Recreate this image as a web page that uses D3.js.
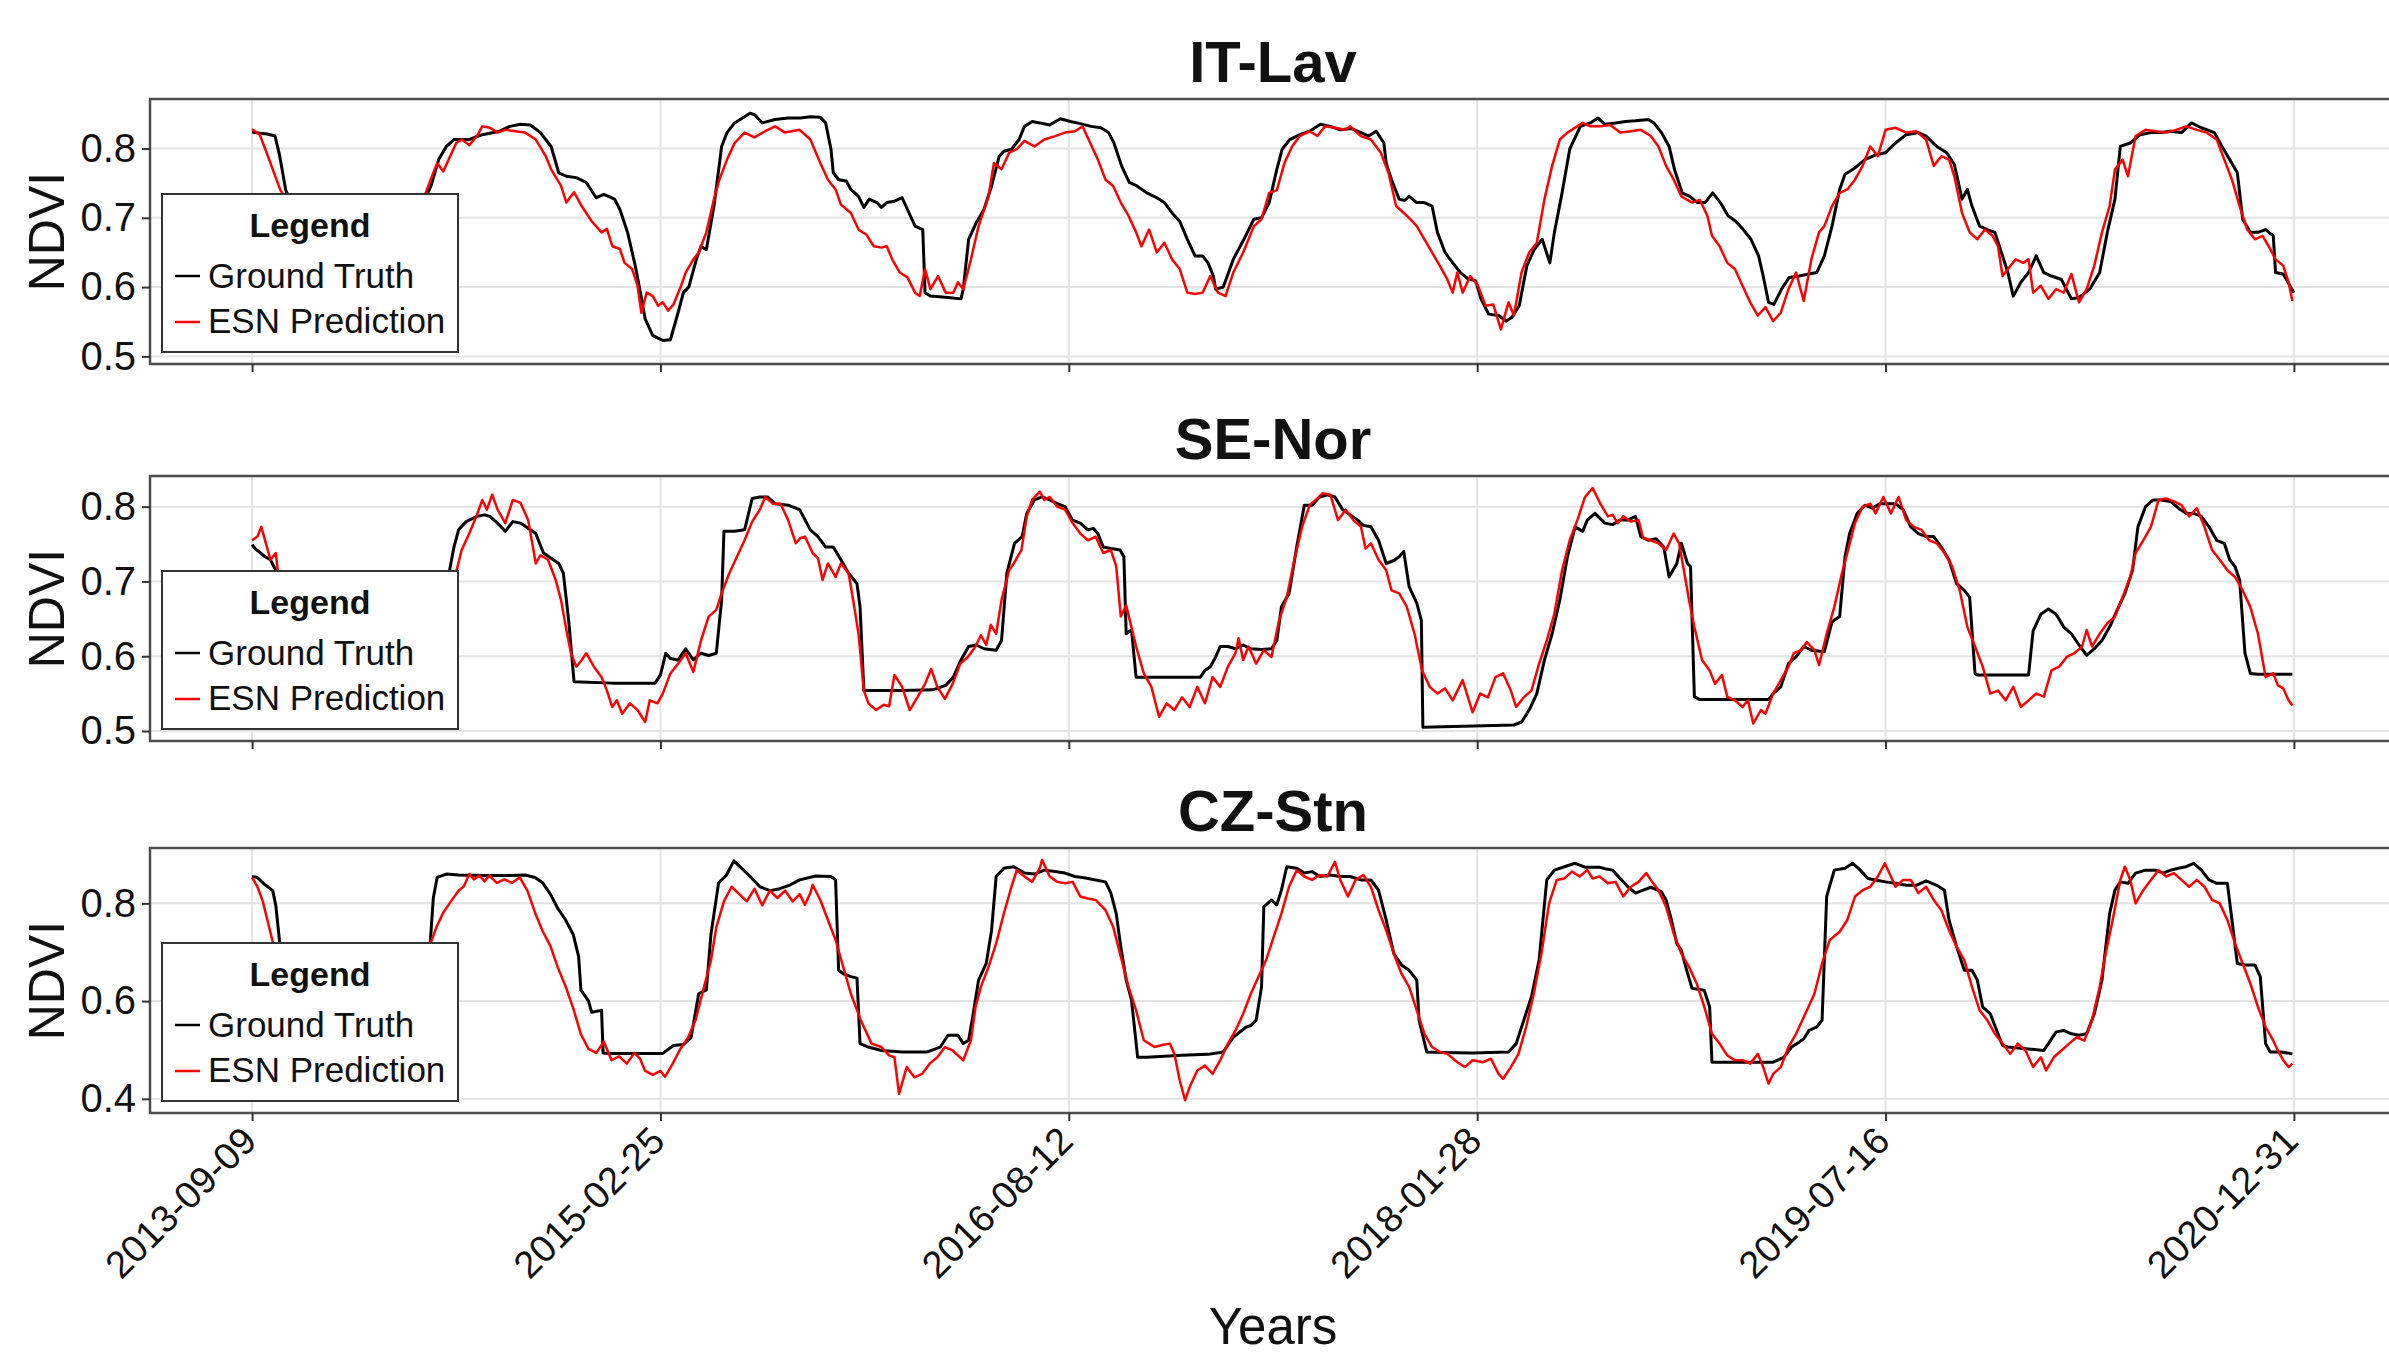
<!DOCTYPE html>
<html>
<head>
<meta charset="utf-8">
<script src="https://cdnjs.cloudflare.com/ajax/libs/d3/7.8.5/d3.min.js"></script>
<style>
body { margin: 0; background: #fff; }
text { font-family: "Liberation Sans", Arial, Helvetica, sans-serif; fill: #111; }
</style>
</head>
<body>
<svg width="2389" height="1357"></svg>
<script>
// days since 2013-09-09, NDVI
var startDate = new Date(Date.UTC(2013, 8, 9));
var endDate = new Date(Date.UTC(2020, 11, 31));
var tickLabels = ['2013-09-09', '2015-02-25', '2016-08-12', '2018-01-28', '2019-07-16', '2020-12-31'];
var siteNames = ['IT-Lav', 'SE-Nor', 'CZ-Stn'];
var seriesNames = ['Ground Truth', 'ESN Prediction'];
var yTicksItLav = [0.5, 0.6, 0.7, 0.8];
var yTicksSeNor = [0.5, 0.6, 0.7, 0.8];
var yTicksCzStn = [0.4, 0.6, 0.8];
var yDomainItLav = [0.489, 0.8715];
var yDomainSeNor = [0.4866, 0.841];
var yDomainCzStn = [0.371, 0.9133];

var itLavTruth = [[0,0.824],[10,0.822],[20,0.821],[30,0.818],[36,0.79],[44,0.74],[60,0.70],[90,0.66],[130,0.64],[170,0.65],[210,0.69],[234,0.746],[244,0.784],[254,0.803],[264,0.813],[284,0.813],[301,0.82],[324,0.825],[337,0.832],[351,0.835],[364,0.834],[377,0.823],[391,0.803],[401,0.765],[411,0.76],[424,0.758],[437,0.751],[450,0.729],[460,0.734],[474,0.727],[481,0.712],[491,0.679],[501,0.631],[507,0.597],[514,0.554],[524,0.53],[537,0.523],[547,0.524],[557,0.563],[564,0.592],[571,0.60],[581,0.64],[587,0.659],[594,0.654],[604,0.717],[614,0.803],[621,0.823],[631,0.837],[651,0.851],[657,0.849],[667,0.837],[684,0.842],[701,0.844],[717,0.844],[730,0.846],[743,0.845],[750,0.837],[757,0.799],[760,0.765],[767,0.755],[777,0.753],[783,0.741],[793,0.731],[800,0.715],[807,0.727],[817,0.722],[823,0.715],[830,0.722],[840,0.724],[850,0.729],[857,0.712],[867,0.688],[877,0.683],[880,0.592],[887,0.587],[910,0.585],[927,0.583],[930,0.597],[937,0.669],[947,0.693],[957,0.712],[967,0.746],[977,0.789],[983,0.796],[993,0.799],[1003,0.813],[1010,0.832],[1020,0.839],[1030,0.837],[1043,0.834],[1057,0.843],[1070,0.839],[1083,0.836],[1097,0.832],[1110,0.83],[1120,0.823],[1127,0.808],[1137,0.775],[1147,0.751],[1157,0.746],[1170,0.736],[1183,0.729],[1193,0.722],[1203,0.707],[1213,0.695],[1223,0.669],[1233,0.645],[1243,0.645],[1250,0.635],[1257,0.616],[1260,0.597],[1270,0.60],[1283,0.64],[1297,0.669],[1310,0.698],[1320,0.70],[1330,0.722],[1340,0.77],[1347,0.799],[1357,0.813],[1370,0.82],[1383,0.825],[1397,0.835],[1410,0.832],[1423,0.827],[1437,0.829],[1450,0.823],[1460,0.818],[1470,0.825],[1480,0.808],[1483,0.779],[1490,0.755],[1500,0.727],[1507,0.725],[1513,0.731],[1523,0.722],[1533,0.722],[1543,0.717],[1550,0.679],[1560,0.65],[1570,0.635],[1580,0.621],[1590,0.612],[1600,0.609],[1607,0.583],[1617,0.561],[1630,0.559],[1640,0.551],[1647,0.556],[1657,0.573],[1667,0.631],[1677,0.655],[1687,0.669],[1697,0.635],[1703,0.679],[1713,0.736],[1723,0.799],[1737,0.832],[1750,0.837],[1760,0.844],[1769,0.835],[1783,0.837],[1796,0.839],[1809,0.84],[1826,0.842],[1833,0.837],[1843,0.823],[1853,0.803],[1860,0.77],[1870,0.736],[1880,0.731],[1890,0.722],[1900,0.722],[1910,0.736],[1920,0.722],[1930,0.703],[1940,0.695],[1950,0.683],[1960,0.669],[1970,0.645],[1976,0.616],[1983,0.578],[1990,0.575],[2000,0.597],[2010,0.614],[2023,0.616],[2036,0.619],[2046,0.621],[2056,0.645],[2066,0.688],[2076,0.741],[2083,0.763],[2096,0.772],[2109,0.784],[2123,0.791],[2136,0.794],[2149,0.808],[2163,0.82],[2179,0.823],[2189,0.818],[2203,0.803],[2216,0.794],[2226,0.777],[2236,0.727],[2243,0.741],[2249,0.717],[2259,0.688],[2269,0.683],[2279,0.679],[2289,0.645],[2296,0.621],[2303,0.587],[2313,0.607],[2323,0.621],[2333,0.645],[2343,0.621],[2353,0.616],[2366,0.611],[2379,0.583],[2389,0.585],[2403,0.597],[2416,0.621],[2426,0.679],[2436,0.727],[2443,0.803],[2456,0.808],[2469,0.82],[2483,0.823],[2496,0.823],[2509,0.825],[2523,0.823],[2536,0.837],[2549,0.83],[2566,0.823],[2576,0.803],[2586,0.784],[2596,0.765],[2603,0.698],[2613,0.679],[2623,0.679],[2633,0.683],[2643,0.674],[2646,0.621],[2656,0.619],[2670,0.592]];

var itLavPred = [[0,0.828],[7,0.822],[10,0.82],[17,0.80],[27,0.77],[37,0.74],[60,0.70],[100,0.67],[150,0.65],[200,0.68],[227,0.736],[237,0.765],[242,0.779],[250,0.767],[257,0.784],[267,0.808],[274,0.813],[284,0.805],[294,0.818],[301,0.832],[311,0.83],[321,0.823],[331,0.827],[344,0.825],[357,0.823],[371,0.813],[384,0.789],[391,0.77],[404,0.746],[411,0.722],[421,0.737],[431,0.717],[444,0.695],[457,0.679],[464,0.684],[471,0.659],[481,0.655],[487,0.635],[497,0.626],[504,0.602],[509,0.563],[516,0.592],[524,0.587],[531,0.573],[537,0.578],[544,0.566],[551,0.575],[561,0.602],[567,0.621],[577,0.64],[584,0.65],[594,0.679],[604,0.727],[611,0.755],[621,0.784],[631,0.808],[644,0.823],[657,0.816],[671,0.825],[684,0.832],[697,0.823],[716,0.827],[730,0.813],[743,0.779],[753,0.755],[763,0.741],[770,0.719],[783,0.707],[793,0.683],[803,0.676],[813,0.659],[823,0.657],[830,0.659],[837,0.64],[847,0.621],[857,0.614],[867,0.592],[873,0.587],[880,0.626],[887,0.597],[897,0.616],[907,0.592],[917,0.592],[923,0.607],[930,0.597],[940,0.64],[950,0.688],[963,0.731],[970,0.779],[980,0.77],[990,0.794],[1000,0.799],[1010,0.811],[1023,0.803],[1036,0.813],[1050,0.818],[1063,0.823],[1076,0.825],[1086,0.832],[1096,0.808],[1106,0.784],[1116,0.755],[1126,0.746],[1136,0.722],[1146,0.703],[1156,0.679],[1163,0.659],[1173,0.683],[1183,0.65],[1193,0.664],[1203,0.64],[1213,0.626],[1223,0.592],[1233,0.59],[1243,0.592],[1253,0.616],[1263,0.592],[1273,0.587],[1283,0.621],[1296,0.65],[1310,0.688],[1320,0.698],[1330,0.736],[1340,0.74],[1350,0.779],[1360,0.803],[1370,0.818],[1383,0.825],[1393,0.818],[1403,0.832],[1416,0.83],[1430,0.827],[1436,0.832],[1450,0.818],[1463,0.813],[1476,0.794],[1486,0.765],[1496,0.717],[1510,0.703],[1523,0.688],[1533,0.669],[1543,0.65],[1553,0.631],[1563,0.611],[1570,0.592],[1576,0.621],[1583,0.592],[1593,0.616],[1603,0.602],[1613,0.573],[1623,0.575],[1633,0.539],[1643,0.578],[1650,0.559],[1660,0.621],[1670,0.65],[1680,0.664],[1690,0.727],[1700,0.775],[1710,0.813],[1720,0.823],[1730,0.83],[1740,0.837],[1750,0.832],[1763,0.832],[1776,0.834],[1789,0.823],[1803,0.825],[1816,0.827],[1829,0.818],[1839,0.803],[1849,0.775],[1859,0.755],[1869,0.731],[1883,0.722],[1893,0.726],[1903,0.703],[1909,0.674],[1919,0.659],[1929,0.635],[1939,0.626],[1949,0.602],[1959,0.578],[1969,0.559],[1979,0.571],[1989,0.551],[1999,0.563],[2009,0.597],[2019,0.621],[2029,0.58],[2039,0.64],[2049,0.679],[2056,0.688],[2066,0.717],[2076,0.736],[2086,0.741],[2096,0.755],[2106,0.775],[2116,0.803],[2126,0.789],[2136,0.827],[2149,0.83],[2163,0.823],[2176,0.825],[2189,0.813],[2199,0.775],[2209,0.789],[2219,0.784],[2226,0.76],[2236,0.707],[2246,0.679],[2256,0.669],[2266,0.683],[2276,0.674],[2283,0.659],[2289,0.616],[2296,0.626],[2306,0.64],[2316,0.635],[2323,0.64],[2329,0.592],[2339,0.602],[2349,0.583],[2359,0.597],[2369,0.592],[2379,0.619],[2389,0.578],[2399,0.597],[2409,0.631],[2419,0.679],[2429,0.717],[2436,0.77],[2446,0.784],[2453,0.76],[2463,0.818],[2476,0.827],[2489,0.825],[2503,0.823],[2516,0.827],[2529,0.832],[2543,0.827],[2556,0.823],[2569,0.813],[2579,0.784],[2589,0.755],[2599,0.717],[2609,0.683],[2619,0.669],[2629,0.674],[2639,0.655],[2646,0.64],[2656,0.631],[2663,0.607],[2668,0.58]];

var seNorTruth = [[0,0.749],[4,0.744],[11,0.738],[17,0.733],[24,0.729],[31,0.715],[50,0.69],[80,0.63],[110,0.60],[150,0.60],[200,0.62],[230,0.67],[258,0.714],[264,0.746],[270,0.769],[280,0.78],[294,0.787],[304,0.789],[311,0.787],[321,0.778],[331,0.767],[341,0.78],[351,0.778],[361,0.771],[371,0.764],[381,0.738],[391,0.731],[401,0.724],[407,0.711],[414,0.648],[421,0.566],[471,0.564],[527,0.564],[534,0.575],[541,0.604],[547,0.597],[557,0.595],[567,0.61],[577,0.595],[587,0.604],[597,0.601],[607,0.604],[614,0.675],[617,0.767],[631,0.767],[644,0.769],[654,0.811],[664,0.813],[674,0.813],[684,0.804],[701,0.802],[716,0.796],[730,0.769],[740,0.76],[750,0.746],[760,0.746],[770,0.729],[780,0.711],[791,0.697],[795,0.666],[800,0.554],[850,0.554],[890,0.555],[907,0.561],[917,0.572],[927,0.595],[937,0.613],[947,0.615],[957,0.61],[973,0.608],[980,0.621],[987,0.711],[997,0.751],[1007,0.76],[1013,0.791],[1023,0.809],[1033,0.813],[1043,0.809],[1053,0.804],[1063,0.80],[1073,0.782],[1083,0.778],[1093,0.769],[1100,0.771],[1106,0.764],[1113,0.746],[1123,0.744],[1135,0.742],[1140,0.733],[1143,0.63],[1150,0.635],[1156,0.572],[1240,0.572],[1246,0.581],[1253,0.586],[1260,0.599],[1266,0.613],[1276,0.613],[1286,0.61],[1296,0.615],[1306,0.61],[1320,0.609],[1333,0.61],[1340,0.621],[1346,0.666],[1356,0.684],[1366,0.746],[1376,0.802],[1386,0.802],[1396,0.813],[1406,0.816],[1416,0.813],[1426,0.796],[1436,0.789],[1446,0.782],[1453,0.775],[1463,0.773],[1473,0.755],[1483,0.724],[1493,0.728],[1500,0.733],[1506,0.74],[1513,0.693],[1523,0.671],[1529,0.648],[1531,0.505],[1650,0.508],[1660,0.512],[1670,0.528],[1680,0.55],[1690,0.595],[1700,0.63],[1710,0.675],[1720,0.733],[1730,0.773],[1740,0.767],[1746,0.782],[1756,0.791],[1769,0.778],[1779,0.776],[1789,0.782],[1799,0.782],[1809,0.787],[1816,0.76],[1826,0.755],[1836,0.757],[1846,0.746],[1853,0.706],[1863,0.724],[1869,0.751],[1877,0.724],[1881,0.72],[1886,0.546],[1893,0.542],[1983,0.542],[1989,0.55],[1999,0.559],[2009,0.59],[2019,0.599],[2029,0.613],[2039,0.608],[2056,0.606],[2066,0.646],[2076,0.653],[2083,0.733],[2089,0.764],[2099,0.791],[2109,0.802],[2119,0.798],[2129,0.804],[2149,0.804],[2159,0.796],[2169,0.773],[2179,0.764],[2189,0.76],[2199,0.76],[2209,0.746],[2219,0.729],[2229,0.697],[2239,0.688],[2246,0.679],[2253,0.577],[2256,0.575],[2323,0.575],[2329,0.634],[2339,0.656],[2349,0.663],[2359,0.656],[2369,0.639],[2379,0.63],[2389,0.615],[2399,0.601],[2409,0.61],[2419,0.621],[2429,0.639],[2439,0.662],[2449,0.684],[2459,0.715],[2466,0.773],[2476,0.80],[2486,0.809],[2496,0.809],[2509,0.807],[2519,0.798],[2529,0.791],[2539,0.791],[2549,0.787],[2559,0.773],[2569,0.755],[2579,0.751],[2586,0.729],[2593,0.72],[2599,0.702],[2606,0.604],[2613,0.577],[2623,0.576],[2668,0.576]];

var seNorPred = [[0,0.755],[7,0.76],[12,0.773],[17,0.755],[24,0.729],[31,0.738],[34,0.711],[50,0.68],[80,0.64],[120,0.60],[160,0.59],[200,0.61],[240,0.66],[267,0.713],[274,0.742],[284,0.764],[294,0.789],[301,0.809],[307,0.796],[314,0.816],[321,0.796],[331,0.778],[341,0.809],[351,0.805],[361,0.782],[371,0.724],[377,0.735],[387,0.729],[397,0.702],[404,0.675],[411,0.635],[417,0.604],[424,0.586],[431,0.595],[437,0.604],[447,0.586],[457,0.572],[464,0.554],[471,0.532],[477,0.541],[484,0.523],[494,0.537],[504,0.528],[514,0.512],[520,0.541],[530,0.537],[537,0.55],[547,0.577],[557,0.59],[567,0.604],[577,0.579],[587,0.621],[597,0.653],[607,0.662],[614,0.684],[624,0.711],[634,0.733],[644,0.755],[654,0.78],[664,0.796],[671,0.813],[681,0.804],[691,0.804],[701,0.782],[711,0.751],[717,0.758],[723,0.76],[733,0.738],[740,0.731],[746,0.702],[753,0.724],[763,0.706],[770,0.724],[780,0.711],[786,0.675],[793,0.63],[800,0.554],[806,0.537],[816,0.528],[826,0.535],[833,0.533],[840,0.575],[850,0.559],[860,0.528],[870,0.545],[880,0.563],[888,0.583],[896,0.559],[906,0.543],[916,0.563],[926,0.59],[936,0.599],[946,0.613],[953,0.628],[960,0.615],[966,0.642],[973,0.63],[980,0.675],[990,0.715],[996,0.724],[1006,0.742],[1013,0.787],[1020,0.809],[1030,0.82],[1036,0.809],[1043,0.813],[1053,0.80],[1063,0.796],[1073,0.778],[1083,0.764],[1093,0.755],[1103,0.76],[1113,0.738],[1123,0.742],[1130,0.72],[1136,0.653],[1143,0.668],[1156,0.613],[1166,0.577],[1176,0.559],[1186,0.519],[1196,0.537],[1206,0.528],[1216,0.545],[1226,0.532],[1236,0.559],[1246,0.537],[1256,0.572],[1266,0.559],[1276,0.586],[1286,0.604],[1290,0.624],[1296,0.595],[1303,0.613],[1313,0.59],[1323,0.608],[1333,0.599],[1343,0.648],[1353,0.679],[1363,0.729],[1373,0.773],[1383,0.802],[1393,0.811],[1400,0.818],[1410,0.816],[1420,0.782],[1430,0.796],[1440,0.782],[1450,0.773],[1456,0.744],[1463,0.751],[1473,0.729],[1483,0.715],[1490,0.688],[1500,0.684],[1510,0.666],[1520,0.63],[1530,0.581],[1540,0.559],[1550,0.55],[1560,0.557],[1570,0.541],[1583,0.568],[1596,0.525],[1606,0.55],[1616,0.545],[1626,0.572],[1636,0.577],[1646,0.554],[1653,0.532],[1663,0.545],[1673,0.554],[1683,0.59],[1693,0.621],[1703,0.657],[1713,0.715],[1723,0.755],[1733,0.782],[1743,0.813],[1753,0.825],[1763,0.804],[1773,0.787],[1779,0.789],[1786,0.778],[1793,0.787],[1803,0.78],[1813,0.782],[1819,0.758],[1829,0.755],[1839,0.751],[1849,0.742],[1859,0.764],[1866,0.751],[1873,0.711],[1879,0.675],[1886,0.639],[1896,0.595],[1906,0.581],[1913,0.563],[1922,0.575],[1929,0.546],[1939,0.541],[1949,0.532],[1956,0.541],[1963,0.51],[1973,0.528],[1979,0.523],[1989,0.55],[1999,0.568],[2009,0.586],[2016,0.604],[2026,0.608],[2033,0.619],[2043,0.608],[2049,0.588],[2059,0.63],[2069,0.666],[2079,0.711],[2086,0.738],[2096,0.778],[2106,0.80],[2116,0.804],[2123,0.791],[2133,0.813],[2143,0.791],[2153,0.813],[2163,0.782],[2173,0.773],[2183,0.769],[2193,0.755],[2203,0.751],[2213,0.738],[2223,0.72],[2233,0.688],[2243,0.639],[2253,0.613],[2263,0.586],[2273,0.55],[2283,0.554],[2293,0.541],[2303,0.559],[2313,0.532],[2323,0.541],[2333,0.55],[2343,0.546],[2353,0.581],[2363,0.586],[2373,0.599],[2383,0.604],[2393,0.613],[2399,0.635],[2406,0.613],[2416,0.63],[2426,0.644],[2436,0.653],[2446,0.679],[2456,0.706],[2463,0.738],[2473,0.755],[2483,0.773],[2493,0.809],[2503,0.811],[2513,0.807],[2523,0.802],[2533,0.787],[2543,0.798],[2553,0.773],[2563,0.742],[2573,0.729],[2583,0.715],[2593,0.706],[2603,0.688],[2613,0.666],[2623,0.63],[2633,0.572],[2643,0.577],[2649,0.561],[2656,0.557],[2663,0.541],[2668,0.534]];

var czStnTruth = [[0,0.855],[7,0.853],[17,0.838],[27,0.826],[31,0.796],[36,0.721],[50,0.62],[70,0.55],[100,0.50],[150,0.49],[200,0.50],[225,0.60],[233,0.72],[237,0.811],[242,0.853],[254,0.86],[270,0.858],[304,0.857],[337,0.857],[357,0.858],[370,0.853],[380,0.842],[390,0.819],[400,0.789],[410,0.766],[420,0.736],[427,0.691],[430,0.623],[440,0.60],[444,0.577],[457,0.581],[459,0.494],[471,0.493],[537,0.493],[551,0.509],[564,0.511],[574,0.525],[584,0.615],[594,0.623],[600,0.736],[610,0.842],[620,0.857],[630,0.887],[640,0.872],[650,0.857],[664,0.834],[677,0.826],[690,0.83],[704,0.838],[716,0.848],[737,0.856],[757,0.855],[763,0.848],[767,0.663],[773,0.656],[783,0.65],[791,0.647],[795,0.513],[806,0.506],[823,0.499],[850,0.496],[883,0.496],[900,0.506],[910,0.53],[923,0.53],[930,0.513],[937,0.52],[943,0.574],[950,0.643],[960,0.677],[967,0.745],[973,0.855],[983,0.872],[996,0.875],[1010,0.862],[1023,0.86],[1036,0.868],[1050,0.865],[1063,0.862],[1076,0.855],[1090,0.852],[1103,0.848],[1116,0.844],[1123,0.821],[1130,0.779],[1136,0.711],[1143,0.643],[1150,0.602],[1158,0.485],[1170,0.485],[1216,0.489],[1250,0.491],[1270,0.496],[1283,0.526],[1300,0.547],[1306,0.55],[1313,0.561],[1320,0.629],[1323,0.793],[1333,0.807],[1340,0.797],[1346,0.827],[1353,0.875],[1366,0.872],[1376,0.862],[1386,0.865],[1396,0.855],[1410,0.858],[1423,0.855],[1436,0.855],[1450,0.848],[1463,0.848],[1473,0.827],[1483,0.766],[1493,0.697],[1503,0.674],[1513,0.663],[1523,0.643],[1526,0.561],[1536,0.496],[1556,0.495],[1596,0.494],[1643,0.496],[1653,0.513],[1663,0.561],[1673,0.609],[1683,0.684],[1693,0.848],[1703,0.868],[1716,0.875],[1730,0.882],[1743,0.874],[1762,0.874],[1769,0.871],[1779,0.868],[1789,0.851],[1799,0.834],[1809,0.821],[1819,0.827],[1829,0.833],[1843,0.824],[1849,0.807],[1856,0.766],[1863,0.718],[1869,0.704],[1876,0.663],[1883,0.626],[1899,0.622],[1906,0.588],[1909,0.475],[1949,0.475],[1989,0.475],[2003,0.485],[2013,0.506],[2023,0.516],[2029,0.523],[2036,0.54],[2046,0.547],[2053,0.561],[2059,0.814],[2069,0.868],[2083,0.872],[2093,0.882],[2103,0.868],[2113,0.851],[2123,0.848],[2136,0.844],[2149,0.841],[2163,0.837],[2176,0.837],[2189,0.846],[2203,0.837],[2213,0.827],[2219,0.766],[2229,0.711],[2239,0.663],[2249,0.663],[2256,0.643],[2263,0.588],[2273,0.574],[2283,0.533],[2289,0.509],[2296,0.506],[2316,0.503],[2343,0.499],[2349,0.513],[2359,0.537],[2369,0.54],[2379,0.533],[2389,0.53],[2399,0.533],[2409,0.574],[2419,0.643],[2429,0.779],[2436,0.827],[2443,0.844],[2453,0.841],[2463,0.862],[2476,0.868],[2489,0.868],[2499,0.862],[2509,0.868],[2519,0.872],[2529,0.875],[2539,0.882],[2549,0.868],[2559,0.848],[2569,0.841],[2583,0.841],[2589,0.766],[2596,0.677],[2606,0.674],[2619,0.674],[2626,0.65],[2633,0.513],[2639,0.496],[2653,0.496],[2668,0.492]];

var czStnPred = [[0,0.853],[7,0.834],[14,0.804],[20,0.766],[27,0.721],[45,0.64],[70,0.57],[100,0.51],[150,0.48],[200,0.52],[225,0.65],[234,0.721],[241,0.751],[250,0.781],[260,0.804],[270,0.826],[277,0.835],[284,0.86],[290,0.849],[297,0.857],[304,0.845],[310,0.857],[320,0.842],[330,0.849],[340,0.842],[350,0.853],[360,0.826],[370,0.781],[380,0.743],[390,0.713],[400,0.668],[410,0.63],[420,0.585],[430,0.532],[440,0.502],[450,0.494],[460,0.517],[470,0.479],[480,0.487],[490,0.472],[500,0.494],[507,0.483],[514,0.457],[524,0.449],[534,0.457],[540,0.445],[550,0.472],[560,0.502],[570,0.525],[580,0.562],[590,0.623],[600,0.683],[607,0.751],[617,0.804],[627,0.834],[637,0.819],[647,0.804],[657,0.83],[667,0.796],[677,0.826],[687,0.811],[697,0.826],[707,0.804],[716,0.819],[723,0.797],[730,0.821],[733,0.838],[743,0.807],[753,0.766],[763,0.725],[773,0.67],[783,0.615],[796,0.561],[810,0.513],[823,0.506],[833,0.489],[840,0.485],[846,0.41],[856,0.465],[866,0.444],[876,0.451],[886,0.472],[896,0.485],[906,0.506],[916,0.499],[930,0.479],[940,0.52],[946,0.588],[953,0.629],[963,0.67],[973,0.718],[983,0.779],[993,0.834],[1000,0.868],[1010,0.855],[1020,0.844],[1030,0.872],[1033,0.889],[1043,0.855],[1053,0.844],[1063,0.841],[1073,0.844],[1083,0.814],[1093,0.81],[1103,0.807],[1116,0.786],[1126,0.752],[1136,0.691],[1146,0.629],[1156,0.581],[1166,0.52],[1180,0.506],[1190,0.51],[1200,0.513],[1206,0.492],[1213,0.438],[1220,0.397],[1226,0.424],[1236,0.458],[1246,0.468],[1256,0.451],[1266,0.479],[1276,0.513],[1286,0.54],[1296,0.574],[1306,0.615],[1316,0.65],[1326,0.684],[1336,0.732],[1346,0.779],[1356,0.834],[1366,0.868],[1376,0.855],[1386,0.848],[1396,0.858],[1406,0.855],[1416,0.885],[1423,0.848],[1433,0.814],[1443,0.848],[1453,0.858],[1463,0.834],[1473,0.786],[1483,0.745],[1493,0.697],[1503,0.656],[1513,0.629],[1523,0.581],[1533,0.533],[1543,0.506],[1553,0.496],[1563,0.492],[1576,0.475],[1586,0.465],[1596,0.479],[1610,0.475],[1620,0.482],[1630,0.451],[1636,0.441],[1646,0.465],[1656,0.492],[1666,0.547],[1676,0.615],[1686,0.697],[1696,0.80],[1706,0.848],[1716,0.851],[1726,0.865],[1736,0.855],[1746,0.868],[1753,0.851],[1762,0.855],[1773,0.841],[1783,0.844],[1793,0.814],[1803,0.834],[1813,0.844],[1823,0.862],[1829,0.848],[1839,0.827],[1849,0.793],[1859,0.738],[1869,0.697],[1879,0.67],[1889,0.636],[1899,0.588],[1909,0.533],[1919,0.513],[1929,0.489],[1939,0.479],[1949,0.479],[1959,0.472],[1969,0.492],[1976,0.465],[1983,0.431],[1989,0.451],[1999,0.465],[2009,0.506],[2019,0.533],[2029,0.567],[2043,0.615],[2053,0.677],[2063,0.725],[2076,0.742],[2086,0.766],[2096,0.814],[2106,0.827],[2116,0.834],[2126,0.855],[2135,0.882],[2143,0.855],[2149,0.834],[2159,0.848],[2169,0.848],[2179,0.821],[2189,0.834],[2199,0.807],[2209,0.786],[2219,0.745],[2229,0.711],[2239,0.684],[2249,0.629],[2259,0.581],[2269,0.561],[2279,0.533],[2289,0.513],[2299,0.492],[2309,0.513],[2319,0.499],[2329,0.465],[2339,0.485],[2346,0.458],[2356,0.485],[2366,0.499],[2376,0.513],[2386,0.526],[2396,0.519],[2406,0.561],[2416,0.629],[2423,0.691],[2433,0.766],[2443,0.848],[2449,0.875],[2456,0.848],[2463,0.80],[2473,0.827],[2483,0.848],[2493,0.868],[2503,0.855],[2513,0.862],[2523,0.848],[2533,0.834],[2543,0.848],[2553,0.834],[2563,0.807],[2573,0.80],[2583,0.766],[2593,0.718],[2603,0.677],[2613,0.636],[2623,0.588],[2633,0.547],[2643,0.519],[2649,0.499],[2656,0.479],[2663,0.465],[2668,0.472]];

var panels = [
    {name: siteNames[0], truth: itLavTruth, pred: itLavPred, ticks: yTicksItLav, domain: yDomainItLav, top: 99},
    {name: siteNames[1], truth: seNorTruth, pred: seNorPred, ticks: yTicksSeNor, domain: yDomainSeNor, top: 476},
    {name: siteNames[2], truth: czStnTruth, pred: czStnPred, ticks: yTicksCzStn, domain: yDomainCzStn, top: 848}
];
var panelH = 265;
var left = 150, right = 2396;
var colors = ['#000000', '#ff0000'];

var svg = d3.select('svg');
svg.append('rect').attr('width', 2389).attr('height', 1357).attr('fill', '#fff');

var parseDay = d3.utcParse('%Y-%m-%d');
var tickDates = tickLabels.map(parseDay);
var pad = (endDate - startDate) * 0.05;
var x = d3.scaleUtc()
    .domain([new Date(+startDate - pad), new Date(+endDate + pad)])
    .range([left, right]);

function toDate(d){
    return d3.utcDay.offset(startDate, d[0]);
}

panels.forEach(function(p, i){
    var bottom = p.top + panelH;
    var y = d3.scaleLinear().domain(p.domain).range([bottom, p.top]);
    var g = svg.append('g');

    g.append('clipPath').attr('id', 'clip' + i)
        .append('rect')
        .attr('x', left).attr('y', p.top)
        .attr('width', right - left).attr('height', panelH);

    // grid
    g.selectAll('.hgrid')
        .data(p.ticks)
        .enter()
        .append('line')
        .attr('x1', left).attr('x2', right)
        .attr('y1', function(d){ return y(d); })
        .attr('y2', function(d){ return y(d); })
        .attr('stroke', '#e3e3e3')
        .attr('stroke-width', 2);

    g.selectAll('.vgrid')
        .data(tickDates)
        .enter()
        .append('line')
        .attr('x1', function(d){ return x(d); })
        .attr('x2', function(d){ return x(d); })
        .attr('y1', p.top).attr('y2', bottom)
        .attr('stroke', '#e3e3e3')
        .attr('stroke-width', 2);

    var line = d3.line()
        .x(function(d){ return x(toDate(d)); })
        .y(function(d){ return y(d[1]); });

    [p.truth, p.pred].forEach(function(s, k){
        g.append('path')
            .datum(s)
            .attr('clip-path', 'url(#clip' + i + ')')
            .attr('fill', 'none')
            .attr('stroke', colors[k])
            .attr('stroke-width', k == 0 ? 3 : 2.5)
            .attr('stroke-linejoin', 'round')
            .attr('d', line);
    });

    // frame
    g.append('rect')
        .attr('x', left).attr('y', p.top)
        .attr('width', right - left).attr('height', panelH)
        .attr('fill', 'none')
        .attr('stroke', '#4d4d4d')
        .attr('stroke-width', 2.5);

    // y axis
    var ya = g.append('g')
        .attr('transform', 'translate(' + left + ',0)')
        .call(d3.axisLeft(y).tickValues(p.ticks).tickFormat(d3.format('.1f')).tickSize(8).tickPadding(6));
    ya.select('.domain').remove();
    ya.selectAll('line').attr('stroke', '#333').attr('stroke-width', 2);
    ya.selectAll('text').attr('font-size', 40).attr('fill', '#111');

    // x axis
    var xa = g.append('g')
        .attr('transform', 'translate(0,' + bottom + ')')
        .call(d3.axisBottom(x).tickValues(tickDates).tickSize(8).tickFormat(d3.utcFormat('%Y-%m-%d')));
    xa.select('.domain').remove();
    xa.selectAll('line').attr('stroke', '#333').attr('stroke-width', 2);
    if(i == panels.length - 1){
        xa.selectAll('text')
            .attr('font-size', 38)
            .attr('fill', '#111')
            .attr('text-anchor', 'end')
            .attr('dy', null)
            .attr('y', 0)
            .attr('transform', 'translate(6,30)rotate(-45)');
    }
    else{
        xa.selectAll('text').remove();
    }

    // title
    g.append('text')
        .text(p.name)
        .attr('x', (left + right) / 2)
        .attr('y', p.top - 17)
        .attr('text-anchor', 'middle')
        .attr('font-size', 58)
        .attr('font-weight', 'bold');

    g.append('text')
        .text('NDVI')
        .attr('transform', 'translate(64,' + (p.top + panelH / 2) + ')rotate(-90)')
        .attr('text-anchor', 'middle')
        .attr('font-size', 50);

    // legend
    var lg = g.append('g')
        .attr('transform', 'translate(' + (left + 12) + ',' + (bottom - 12 - 158) + ')');
    lg.append('rect')
        .attr('width', 296).attr('height', 158)
        .attr('fill', '#fff')
        .attr('stroke', '#333')
        .attr('stroke-width', 2);
    lg.append('text')
        .text('Legend')
        .attr('x', 148).attr('y', 43)
        .attr('text-anchor', 'middle')
        .attr('font-size', 34)
        .attr('font-weight', 'bold');
    seriesNames.forEach(function(n, k){
        lg.append('line')
            .attr('x1', 13).attr('x2', 38)
            .attr('y1', 82 + k * 46).attr('y2', 82 + k * 46)
            .attr('stroke', colors[k])
            .attr('stroke-width', 2.5);
        lg.append('text')
            .text(n)
            .attr('x', 46).attr('y', 94 + k * 45)
            .attr('font-size', 35);
    });
});

svg.append('text')
    .text('Years')
    .attr('x', (left + right) / 2)
    .attr('y', 1344)
    .attr('text-anchor', 'middle')
    .attr('font-size', 51);
</script>
</body>
</html>
